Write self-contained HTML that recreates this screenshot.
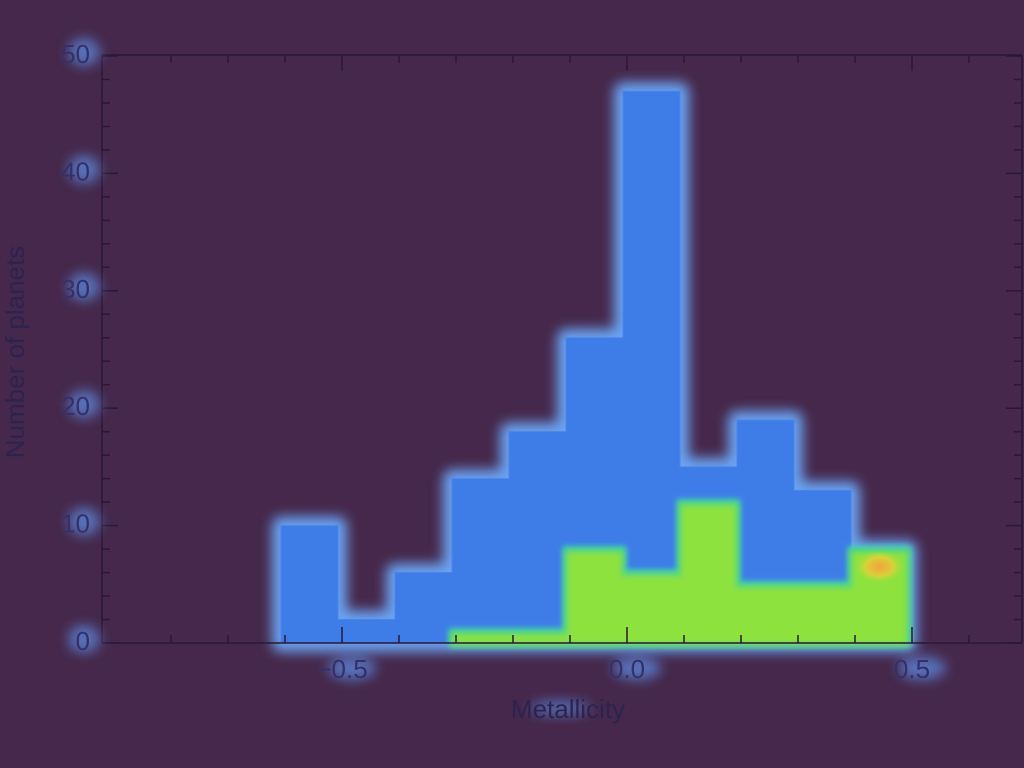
<!DOCTYPE html>
<html><head><meta charset="utf-8"><style>
html,body{margin:0;padding:0;background:#45284b;}
svg{display:block}
text{font-family:"Liberation Sans",sans-serif;}
</style></head><body>
<svg id="chart" width="1024" height="768" viewBox="0 0 1024 768" xmlns="http://www.w3.org/2000/svg">
<defs>
<filter id="glow" x="-20%" y="-20%" width="140%" height="140%"><feGaussianBlur stdDeviation="6"/></filter>
<filter id="soft" x="-20%" y="-20%" width="140%" height="140%"><feGaussianBlur stdDeviation="3"/></filter>
<filter id="tglow" x="-50%" y="-50%" width="200%" height="200%"><feGaussianBlur stdDeviation="6"/></filter>
<radialGradient id="hot"><stop offset="0" stop-color="#f6a23a"/><stop offset="0.6" stop-color="#d6d23a"/><stop offset="1" stop-color="#a6e03a" stop-opacity="0"/></radialGradient>
</defs>
<rect width="1024" height="768" fill="#45284b"/>
<g id="layer"></g>
</svg>
<script>
const binStart = -0.607, binWidth = 0.1;
const allCounts = [10, 2, 6, 14, 18, 26, 47, 15, 19, 13, 8];
const richCounts = [0, 0, 0, 1, 1, 8, 6, 12, 5, 5, 8];
const yTicks = [0, 10, 20, 30, 40, 50];
const xTicks = [-0.5, 0.0, 0.5];
const xTickLabels = ["\u22120.5", "0.0", "0.5"];
const X = v => 627 + v * 570;
const Y = v => 643 - v * 11.74;
const NS = "http://www.w3.org/2000/svg";
const g = document.getElementById('layer');
function mk(tag, attrs, parent) { const e = document.createElementNS(NS, tag); for (const k in attrs) e.setAttribute(k, attrs[k]); (parent || g).appendChild(e); return e; }
function stepPath(counts, from) {
  from = from || 0;
  let d = `M${X(binStart + from * binWidth)},${Y(0)}`;
  counts.forEach((c, i) => { if (i < from) return; const x0 = X(binStart + i * binWidth), x1 = X(binStart + (i + 1) * binWidth); d += ` L${x0},${Y(c)} L${x1},${Y(c)}`; });
  d += ` L${X(binStart + counts.length * binWidth)},${Y(0)} Z`;
  return d;
}
const bg = mk('path', { d: stepPath(allCounts), fill: '#6aa2f2', stroke: '#6aa2f2', 'stroke-width': 18, 'stroke-linejoin': 'round', filter: 'url(#glow)' });


const bb = mk('path', { d: stepPath(allCounts), fill: '#3e7de8', stroke: '#4a86ea', 'stroke-width': 1 });


const startIdx = richCounts.findIndex(c => c > 0);
const gg = mk('path', { d: stepPath(richCounts, startIdx), fill: '#3ad0b8', stroke: '#3ad0b8', 'stroke-width': 6, filter: 'url(#soft)' });


const gr = mk('path', { d: stepPath(richCounts, startIdx), fill: '#8ee23c', stroke: '#5fd86a', 'stroke-width': 4, filter: 'url(#soft)', transform: 'translate(0,2)' });


const last = richCounts.length - 1;
const hot = mk('ellipse', { cx: X(binStart + (last + 0.5) * binWidth), cy: Y(richCounts[last] - 1.5), rx: 24, ry: 16, fill: 'url(#hot)' });


const ax = mk('g', { stroke: '#2a1836', 'stroke-width': 1.5, fill: 'none' });


mk('path', { d: `M102,${Y(0)} L1022,${Y(0)} M102,55 L1022,55 M102,55 L102,${Y(0)} M1022,55 L1022,${Y(0)}` }, ax);
for (let v = 0; v <= 50; v += 2) {
  const len = v % 10 === 0 ? 16 : 8;
  mk('line', { x1: 102, x2: 102 + len, y1: Y(v), y2: Y(v) }, ax);
  mk('line', { x1: 1022, x2: 1022 - len, y1: Y(v), y2: Y(v) }, ax);
}
for (let k = -8; k <= 6; k++) {
  const v = k / 10, x = X(v);
  if (x < 102 || x > 1022) continue;
  const len = k % 5 === 0 ? 16 : 8;
  mk('line', { x1: x, x2: x, y1: Y(0), y2: Y(0) - len }, ax);
  mk('line', { x1: x, x2: x, y1: 55, y2: 55 + len }, ax);
}
yTicks.forEach(v => {
  const gl = mk('ellipse', { cx: 84, cy: Y(v) - 4, rx: 16, ry: 14, fill: '#5f8fe8', opacity: 0.7, filter: 'url(#tglow)' });
  
  
  const t = mk('text', { x: 90, y: Y(v) + 7, 'text-anchor': 'end', 'font-size': 26, fill: '#33306a' });
  t.textContent = v;
  
  
});
xTicks.forEach((v, i) => {
  const gl = mk('ellipse', { cx: X(v) + 10, cy: 668, rx: 24, ry: 12, fill: '#5f8fe8', opacity: 0.7, filter: 'url(#tglow)' });
  
  
  const t = mk('text', { x: X(v), y: 678, 'text-anchor': 'middle', 'font-size': 26, fill: '#33306a' });
  t.textContent = xTickLabels[i];
  
  
});
const xg = mk('ellipse', { cx: 560, cy: 708, rx: 30, ry: 8, fill: '#5f8fe8', opacity: 0.6, filter: 'url(#tglow)' });


const xt = mk('text', { x: 568, y: 718, 'text-anchor': 'middle', 'font-size': 26, fill: '#2c2450' });
xt.textContent = 'Metallicity';


const yt = mk('text', { x: 0, y: 0, 'text-anchor': 'middle', 'font-size': 26, fill: '#2c2450', transform: 'translate(24,352) rotate(-90)' });
yt.textContent = 'Number of planets';


</script>
</body></html>
